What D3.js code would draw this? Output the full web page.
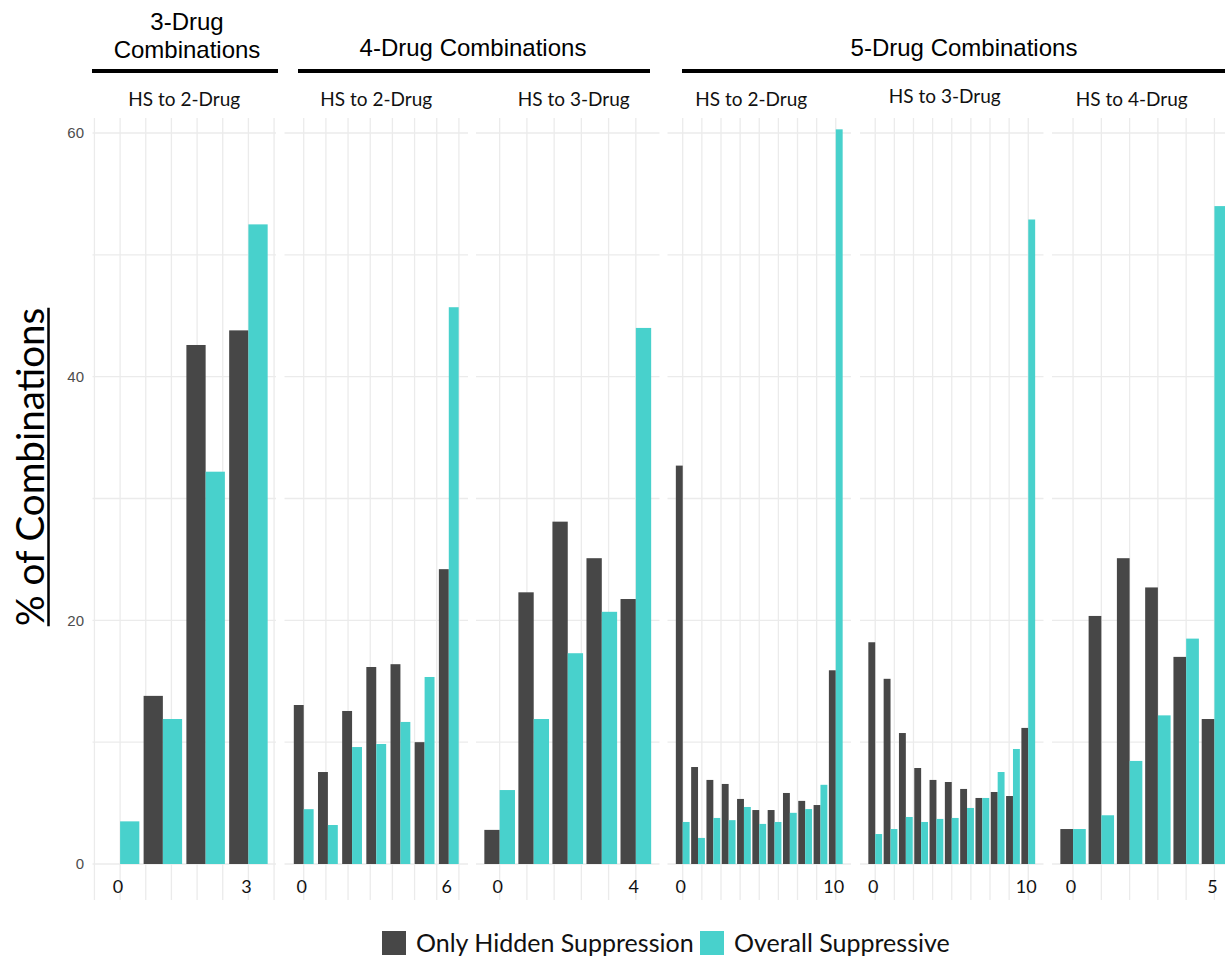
<!DOCTYPE html>
<html>
<head>
<meta charset="utf-8">
<script src="https://cdn.jsdelivr.net/npm/d3@7"></script>
<style>
  html, body { margin: 0; padding: 0; background: #ffffff; }
  svg { display: block; }
</style>
</head>
<body>
<svg id="chart" width="1225" height="957"></svg>
<script>
// Group headers spanning facets
const groupLabels = [["3-Drug", "Combinations"], ["4-Drug Combinations"], ["5-Drug Combinations"]];

// Facet strip labels
const stripLabels = ["HS to 2-Drug", "HS to 2-Drug", "HS to 3-Drug", "HS to 2-Drug", "HS to 3-Drug", "HS to 4-Drug"];

// % of combinations per number of hidden-suppressive sub-combinations
const hiddenSuppression = [
  [0, 13.8, 42.6, 43.8],
  [13.05, 7.55, 12.56, 16.17, 16.4, 10.0, 24.2],
  [2.8, 22.3, 28.1, 25.1, 21.75],
  [32.7, 7.96, 6.9, 6.57, 5.34, 4.43, 4.43, 5.83, 5.18, 4.84, 15.9],
  [18.2, 15.2, 10.75, 7.88, 6.9, 6.73, 6.16, 5.42, 5.91, 5.58, 11.17],
  [2.87, 20.36, 25.1, 22.7, 17.0, 11.9]
];
const overallSuppressive = [
  [3.5, 11.9, 32.2, 52.5],
  [4.5, 3.2, 9.6, 9.85, 11.66, 15.35, 45.7],
  [6.07, 11.9, 17.3, 20.7, 44.0],
  [3.45, 2.14, 3.78, 3.6, 4.68, 3.29, 3.45, 4.2, 4.51, 6.5, 60.3],
  [2.46, 2.87, 3.86, 3.45, 3.7, 3.78, 4.6, 5.42, 7.55, 9.44, 52.9],
  [2.87, 4.0, 8.46, 12.2, 18.5, 54.0]
];

const seriesNames = ["Only Hidden Suppression", "Overall Suppressive"];
const yTicks = [0, 20, 40, 60];
const yGrid = [0, 10, 20, 30, 40, 50, 60];

// Layout
const colors = ["#474747", "#48D1CC"];
const panelLeft = [92.5, 284.5, 476, 667.5, 860, 1052];
const panelWidth = 183.5;
const plotTop = 118, plotBottom = 900;
const dodgeWidth = [0.9, 0.82, 0.9, 0.9, 0.9, 0.9];
const vGridStep = [0.6, 0.917, 0.8, 1.25, 1.25, 1.0];
const stripShift = [[0, 0], [0, 0], [6, 0], [-8, 0], [-7, -3], [-12, 0]];

const svg = d3.select("#chart");
svg.append("rect").attr("width", 1225).attr("height", 957).attr("fill", "#ffffff");

const y = d3.scaleLinear().domain([0, 60]).range([864, 133]);

const calibri = "Lato, 'Open Sans', sans-serif";
const arial = "'Liberation Sans', Arial, sans-serif";

hiddenSuppression.forEach((hs, p) => {
  const os = overallSuppressive[p];
  const n = hs.length;
  const half = 0.45;
  const pad = 0.05 * (n - 1 + 2 * half);
  const x = d3.scaleLinear()
    .domain([-half - pad, n - 1 + half + pad])
    .range([panelLeft[p], panelLeft[p] + panelWidth]);
  const g = svg.append("g");

  // vertical grid
  const [d0, d1] = x.domain();
  const vLines = [];
  for (let v = 0; v <= d1 + 1e-9; v += vGridStep[p]) vLines.push(v);
  for (let v = -vGridStep[p]; v >= d0; v -= vGridStep[p]) vLines.push(v);
  g.selectAll("line.vg").data(vLines).join("line")
    .attr("x1", d => x(d)).attr("x2", d => x(d))
    .attr("y1", plotTop).attr("y2", plotBottom)
    .attr("stroke", "#ebebeb").attr("stroke-width", 1.3);

  // horizontal grid
  g.selectAll("line.hg").data(yGrid).join("line")
    .attr("x1", x.range()[0]).attr("x2", x.range()[1])
    .attr("y1", d => y(d)).attr("y2", d => y(d))
    .attr("stroke", "#ebebeb").attr("stroke-width", 1.3);

  // dodged bars
  const w = dodgeWidth[p] / 2;
  const rows = [];
  hs.forEach((v, i) => rows.push({ i, v, s: 0 }));
  os.forEach((v, i) => rows.push({ i, v, s: 1 }));
  g.selectAll("rect.bar").data(rows).join("rect")
    .attr("x", d => x(d.i - w + d.s * w))
    .attr("width", d => x(d.i + w) - x(d.i))
    .attr("y", d => y(d.v))
    .attr("height", d => y(0) - y(d.v))
    .attr("fill", d => colors[d.s]);

  // x tick labels at the first and last category
  g.selectAll("text.xt").data([0, n - 1]).join("text")
    .attr("x", d => x(d) - 2).attr("y", 893)
    .attr("text-anchor", "middle")
    .attr("font-family", calibri).attr("font-size", 18)
    .attr("fill", "#111")
    .text(d => d);

  // strip label
  svg.append("text")
    .attr("x", panelLeft[p] + panelWidth / 2 + stripShift[p][0])
    .attr("y", 106 + stripShift[p][1])
    .attr("text-anchor", "middle")
    .attr("font-family", calibri).attr("font-size", 19)
    .attr("fill", "#111")
    .text(stripLabels[p]);
});

// y axis tick labels
svg.selectAll("text.yt").data(yTicks).join("text")
  .attr("x", 84).attr("y", d => y(d)).attr("dy", "0.35em")
  .attr("text-anchor", "end")
  .attr("font-family", arial).attr("font-size", 15)
  .attr("fill", "#4d4d4d")
  .text(d => d);

// y axis title with underline
const yTitle = svg.append("text")
  .attr("transform", "translate(44,467) rotate(-90)")
  .attr("text-anchor", "middle")
  .attr("font-family", calibri).attr("font-size", 38.5)
  .attr("fill", "#000")
  .text("% of Combinations");
const tl = yTitle.node().getComputedTextLength();
svg.append("line")
  .attr("x1", 48.5).attr("x2", 48.5)
  .attr("y1", 467 - tl / 2).attr("y2", 467 + tl / 2)
  .attr("stroke", "#000").attr("stroke-width", 2.5);

// group headers and their rules
const ruleSpans = [[92, 278], [298, 650], [682, 1225]];
const headerCenters = [187, 473, 964];
groupLabels.forEach((lines, k) => {
  const [a, b] = ruleSpans[k];
  svg.append("line")
    .attr("x1", a).attr("x2", b).attr("y1", 71).attr("y2", 71)
    .attr("stroke", "#000").attr("stroke-width", 4);
  const t = svg.append("text")
    .attr("text-anchor", "middle")
    .attr("font-family", arial).attr("font-size", 24)
    .attr("fill", "#000");
  lines.forEach((ln, j) => {
    t.append("tspan")
      .attr("x", headerCenters[k])
      .attr("y", lines.length === 1 ? 56 : 30 + j * 28)
      .text(ln);
  });
});

// legend
const legend = svg.append("g");
const legendX = [382, 700];
seriesNames.forEach((name, s) => {
  legend.append("rect")
    .attr("x", legendX[s]).attr("y", 931)
    .attr("width", 24).attr("height", 24)
    .attr("fill", colors[s]);
  legend.append("text")
    .attr("x", legendX[s] + 34).attr("y", 943).attr("dy", "0.35em")
    .attr("font-family", calibri).attr("font-size", 25)
    .attr("fill", "#111")
    .text(name);
});
</script>
</body>
</html>
